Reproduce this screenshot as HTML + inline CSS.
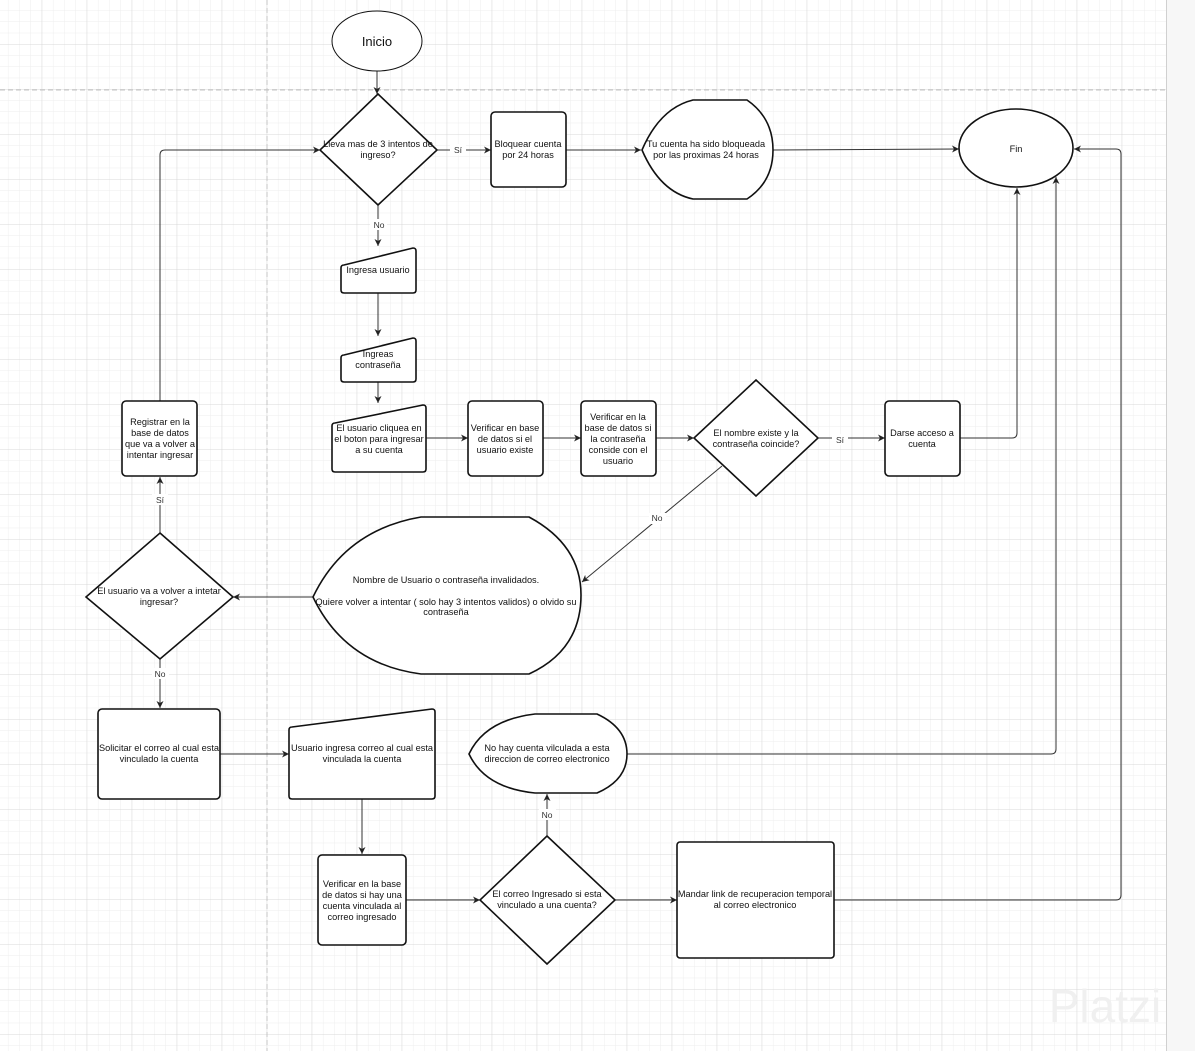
<!DOCTYPE html>
<html><head><meta charset="utf-8"><style>
html,body{margin:0;padding:0;background:#fff;}
svg{display:block;font-family:"Liberation Sans",Arial,sans-serif;}
</style></head><body>
<svg width="1195" height="1051" viewBox="0 0 1195 1051" xmlns="http://www.w3.org/2000/svg">
<defs>
<pattern id="minor" x="41.7" y="44" width="11.25" height="11.25" patternUnits="userSpaceOnUse">
<path d="M0 0H11.25M0 0V11.25" stroke="#eeeeee" stroke-width="1" fill="none"/>
</pattern>
<pattern id="major" x="41.7" y="44" width="45" height="45" patternUnits="userSpaceOnUse">
<path d="M0 0H45M0 0V45" stroke="#d8d8d8" stroke-width="1" fill="none"/>
</pattern>
<marker id="a" markerWidth="8" markerHeight="8" refX="7" refY="4" orient="auto" markerUnits="userSpaceOnUse">
<path d="M0,0.5 L7,4 L0,7.5 L2,4 Z" fill="#222"/>
</marker>
</defs>
<rect x="0" y="0" width="1166" height="1051" fill="url(#minor)"/>
<rect x="0" y="0" width="1166" height="1051" fill="url(#major)"/>
<rect x="1166" y="0" width="29" height="1051" fill="#f7f7f7"/>
<line x1="1166.5" y1="0" x2="1166.5" y2="1051" stroke="#d0d0d0"/>
<line x1="0" y1="90" x2="1166" y2="90" stroke="#c4c4c4" stroke-dasharray="5,3"/>
<line x1="267" y1="0" x2="267" y2="1051" stroke="#c4c4c4" stroke-dasharray="5,3"/>

<text x="1105" y="1022" font-size="46" fill="#f0f0f0" text-anchor="middle">Platzi</text>

<g stroke="#333" stroke-width="1" fill="none" marker-end="url(#a)">
<line x1="377" y1="71" x2="377" y2="94"/>
<line x1="437" y1="150" x2="491" y2="150"/>
<line x1="566" y1="150" x2="641" y2="150"/>
<line x1="773" y1="150" x2="959" y2="149"/>
<line x1="378" y1="205" x2="378" y2="246"/>
<line x1="378" y1="293" x2="378" y2="336"/>
<line x1="378" y1="382" x2="378" y2="403"/>
<line x1="426" y1="438" x2="468" y2="438"/>
<line x1="543" y1="438" x2="581" y2="438"/>
<line x1="656" y1="438" x2="694" y2="438"/>
<line x1="818" y1="438" x2="885" y2="438"/>
<path d="M960 438 H1012 Q1017 438 1017 433 V188"/>
<line x1="722" y1="466" x2="582" y2="582"/>
<line x1="313" y1="597" x2="233" y2="597"/>
<line x1="160" y1="533" x2="160" y2="477"/>
<path d="M160 401 V155 Q160 150 165 150 H320"/>
<line x1="160" y1="659" x2="160" y2="708"/>
<line x1="220" y1="754" x2="289" y2="754"/>
<line x1="362" y1="799" x2="362" y2="854"/>
<line x1="406" y1="900" x2="480" y2="900"/>
<line x1="547" y1="836" x2="547" y2="794"/>
<path d="M627 754 H1051 Q1056 754 1056 749 V177"/>
<line x1="615" y1="900" x2="677" y2="900"/>
<path d="M834 900 H1116 Q1121 900 1121 895 V154 Q1121 149 1116 149 H1074"/>
</g>

<g stroke="#111" stroke-width="1.6" fill="#fff">
<ellipse cx="377" cy="41" rx="45" ry="30" stroke-width="1"/>
<polygon points="378,94 437,150 378,205 320,150"/>
<rect x="491" y="112" width="75" height="75" rx="4"/>
<path d="M642 150 Q660 108 693 100 H747 Q773 118 773 150 Q773 182 747 199 H693 Q660 192 642 150 Z"/>
<ellipse cx="1016" cy="148" rx="57" ry="39"/>
<path d="M344 265 L413 248 Q416 248 416 251 V290 Q416 293 413 293 H344 Q341 293 341 290 V268 Q341 265 344 265 Z"/>
<path d="M344 355 L413 338 Q416 338 416 341 V379 Q416 382 413 382 H344 Q341 382 341 379 V358 Q341 355 344 355 Z"/>
<path d="M335 423 L423 405 Q426 405 426 408 V469 Q426 472 423 472 H335 Q332 472 332 469 V426 Q332 423 335 423 Z"/>
<rect x="468" y="401" width="75" height="75" rx="4"/>
<rect x="581" y="401" width="75" height="75" rx="4"/>
<polygon points="756,380 818,438 756,496 694,438"/>
<rect x="885" y="401" width="75" height="75" rx="4"/>
<path d="M313 597 Q345 530 421 517 H529 Q581 545 581 595 Q581 650 529 674 H421 Q345 664 313 597 Z"/>
<polygon points="160,533 233,597 160,659 86,597"/>
<rect x="122" y="401" width="75" height="75" rx="4"/>
<rect x="98" y="709" width="122" height="90" rx="4"/>
<path d="M292 727 L432 709 Q435 709 435 712 V796 Q435 799 432 799 H292 Q289 799 289 796 V730 Q289 727 292 727 Z"/>
<rect x="318" y="855" width="88" height="90" rx="4"/>
<polygon points="547,836 615,900 547,964 480,900"/>
<path d="M469 754 Q485 720 535 714 H597 Q627 728 627 754 Q627 780 597 793 H535 Q485 788 469 754 Z"/>
<rect x="677" y="842" width="157" height="116" rx="3"/>
</g>

<g font-size="9.2" fill="#111" text-anchor="middle">
<text x="377" y="46" font-size="13">Inicio</text>
<text x="378" y="147">Lleva mas de 3 intentos de</text><text x="378" y="158">ingreso?</text>
<text x="528" y="147">Bloquear cuenta</text><text x="528" y="158">por 24 horas</text>
<text x="706" y="147">Tu cuenta ha sido bloqueada</text><text x="706" y="158">por las proximas 24 horas</text>
<text x="1016" y="152">Fin</text>
<text x="378" y="273">Ingresa usuario</text>
<text x="378" y="357">Ingreas</text><text x="378" y="368">contraseña</text>
<text x="379" y="431">El usuario cliquea en</text><text x="379" y="442">el boton para ingresar</text><text x="379" y="453">a su cuenta</text>
<text x="505" y="431">Verificar en base</text><text x="505" y="442">de datos si el</text><text x="505" y="453">usuario existe</text>
<text x="618" y="420">Verificar en la</text><text x="618" y="431">base de datos si</text><text x="618" y="442">la contraseña</text><text x="618" y="453">conside con el</text><text x="618" y="464">usuario</text>
<text x="756" y="436">El nombre existe y la</text><text x="756" y="447">contraseña coincide?</text>
<text x="922" y="436">Darse acceso a</text><text x="922" y="447">cuenta</text>
<text x="160" y="425">Registrar en la</text><text x="160" y="436">base de datos</text><text x="160" y="447">que va a volver a</text><text x="160" y="458">intentar ingresar</text>
<text x="446" y="583">Nombre de Usuario o contraseña invalidados.</text>
<text x="446" y="605">Quiere volver a intentar ( solo hay 3 intentos validos) o olvido su</text><text x="446" y="615">contraseña</text>
<text x="159" y="594">El usuario va a volver a intetar</text><text x="159" y="605">ingresar?</text>
<text x="159" y="751">Solicitar el correo al cual esta</text><text x="159" y="762">vinculado la cuenta</text>
<text x="362" y="751">Usuario ingresa correo al cual esta</text><text x="362" y="762">vinculada la cuenta</text>
<text x="362" y="887">Verificar en la base</text><text x="362" y="898">de datos si hay una</text><text x="362" y="909">cuenta vinculada al</text><text x="362" y="920">correo ingresado</text>
<text x="547" y="897">El correo Ingresado si esta</text><text x="547" y="908">vinculado a una cuenta?</text>
<text x="547" y="751">No hay cuenta vilculada a esta</text><text x="547" y="762">direccion de correo electronico</text>
<text x="755" y="897">Mandar link de recuperacion temporal</text><text x="755" y="908">al correo electronico</text>
</g>
<g font-size="8.5" fill="#333" text-anchor="middle">
<rect x="450" y="144" width="16" height="11" fill="#fff"/><text x="458" y="153">Sí</text>
<rect x="370" y="219" width="17" height="11" fill="#fff"/><text x="379" y="228">No</text>
<rect x="832" y="434" width="16" height="11" fill="#fff"/><text x="840" y="443">Sí</text>
<rect x="649" y="513" width="17" height="11" fill="#fff"/><text x="657" y="521">No</text>
<rect x="152" y="494" width="16" height="11" fill="#fff"/><text x="160" y="503">Sí</text>
<rect x="152" y="668" width="17" height="11" fill="#fff"/><text x="160" y="677">No</text>
<rect x="539" y="809" width="17" height="11" fill="#fff"/><text x="547" y="818">No</text>
</g>
</svg>
</body></html>
